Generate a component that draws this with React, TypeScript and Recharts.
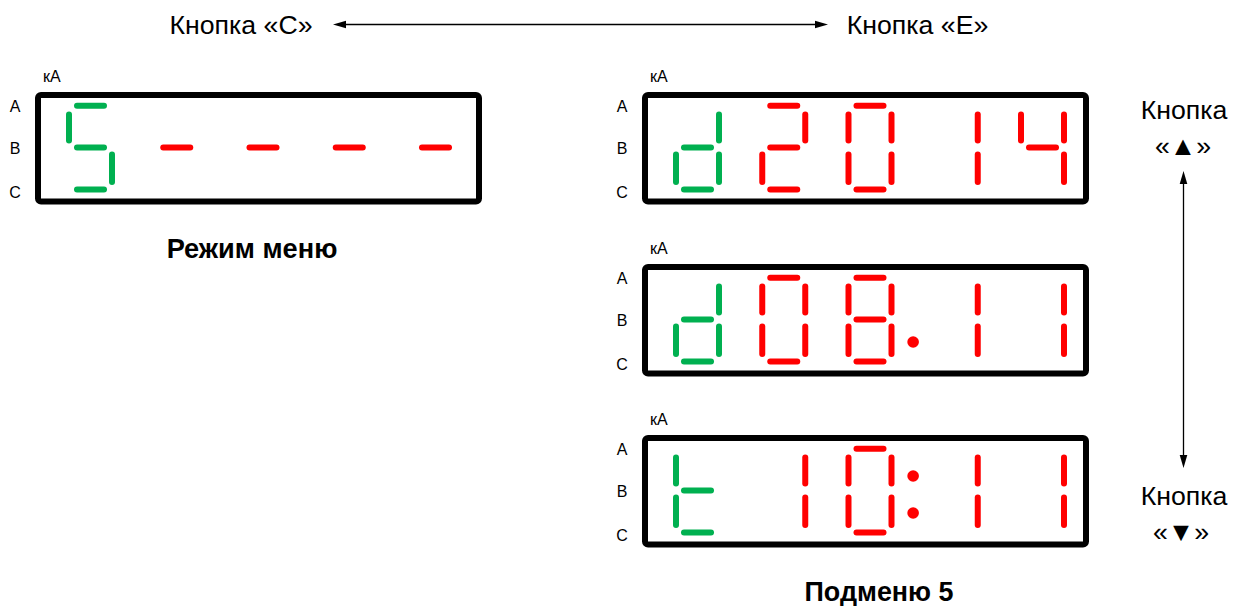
import React from "react";
import {
  ComposedChart,
  XAxis,
  YAxis,
  Scatter,
  ReferenceLine,
  ReferenceDot,
  ReferenceArea,
} from "recharts";

// what each display shows (first position is the mode letter, in green)
const menuText = "S----";
const submenuTexts = ["d2014", "d08.11", "t10:11"];
const phaseLabels = ["A", "B", "C"];
const unitLabel = "кА";
const topButtons = ["Кнопка «С»", "Кнопка «E»"];
const upButton = ["Кнопка", "«▲»"];
const downButton = ["Кнопка", "«▼»"];
const captions = ["Режим меню", "Подменю 5"];

// seven-segment codes
const SEGMENTS: Record<string, string> = {
  S: "acdfg",
  "-": "g",
  d: "bcdeg",
  t: "defg",
  "0": "abcdef",
  "1": "bc",
  "2": "abdeg",
  "4": "bcfg",
  "8": "abcdefg",
};

const W = 1240;
const H = 606;
const GREEN = "#00b050";
const RED = "#ff0000";
const FONT = "'Liberation Sans', Arial, sans-serif";

// layout of one display
const BOX_W = 441;
const BOX_H = 106.5;
const DIGIT_X0 = 31;
const DIGIT_STEP = 86.25;
const DIGIT_W = 43;
const ROWS = { a: 10.7, g: 52.5, d: 94.5 };
const H_INSET = 8;
const UPPER = [19.5, 45.5];
const LOWER = [59.5, 87];
const DOTS = { upper: 38, lower: 75 };

const boxes = [
  { left: 38, top: 95, text: menuText },
  { left: 645, top: 95, text: submenuTexts[0] },
  { left: 645, top: 267, text: submenuTexts[1] },
  { left: 645, top: 438, text: submenuTexts[2] },
];

type Seg = { p: [{ x: number; y: number }, { x: number; y: number }]; color: string };
type Dot = { x: number; y: number };

const segs: Seg[] = [];
const dots: Dot[] = [];

boxes.forEach((b) => {
  let pos = -1;
  for (const ch of b.text) {
    const digitLeft = b.left + DIGIT_X0 + pos * DIGIT_STEP;
    const gapX = digitLeft + DIGIT_W + (DIGIT_STEP - DIGIT_W) / 2;
    if (ch === ".") {
      dots.push({ x: gapX, y: b.top + DOTS.lower });
      continue;
    }
    if (ch === ":") {
      dots.push({ x: gapX, y: b.top + DOTS.upper });
      dots.push({ x: gapX, y: b.top + DOTS.lower });
      continue;
    }
    pos += 1;
    const xl = b.left + DIGIT_X0 + pos * DIGIT_STEP;
    const xr = xl + DIGIT_W;
    const color = pos === 0 ? GREEN : RED;
    for (const s of SEGMENTS[ch] || "") {
      const T = b.top;
      if (s === "a" || s === "g" || s === "d") {
        const y = T + ROWS[s];
        segs.push({ p: [{ x: xl + H_INSET, y }, { x: xr - H_INSET, y }], color });
      } else {
        const x = s === "b" || s === "c" ? xr : xl;
        const r = s === "b" || s === "f" ? UPPER : LOWER;
        segs.push({ p: [{ x, y: T + r[0] }, { x, y: T + r[1] }], color });
      }
    }
  }
});

const labels: any[] = [];
boxes.forEach((b) => {
  labels.push({ x: b.left + 5, y: b.top - 19, text: unitLabel, size: 16, weight: 400, anchor: "start" });
  [11.5, 53.5, 97].forEach((dy, i) =>
    labels.push({ x: b.left - 23, y: b.top + dy, text: phaseLabels[i], size: 16, weight: 400, anchor: "middle" })
  );
});
labels.push({ x: 241, y: 25, text: topButtons[0], size: 26.7, weight: 400, anchor: "middle" });
labels.push({ x: 917.5, y: 25, text: topButtons[1], size: 26.7, weight: 400, anchor: "middle" });
labels.push({ x: 1184, y: 110, text: upButton[0], size: 26.7, weight: 400, anchor: "middle" });
labels.push({ x: 1183, y: 146, text: upButton[1], size: 26.7, weight: 400, anchor: "middle" });
labels.push({ x: 1184, y: 496, text: downButton[0], size: 26.7, weight: 400, anchor: "middle" });
labels.push({ x: 1181, y: 532, text: downButton[1], size: 26.7, weight: 400, anchor: "middle" });
labels.push({ x: 252, y: 248, text: captions[0], size: 27.2, weight: 700, anchor: "middle" });
labels.push({ x: 879, y: 592, text: captions[1], size: 26.9, weight: 700, anchor: "middle" });

const arrows = [
  [{ x: 333, y: 24.5 }, { x: 828, y: 24.5 }],
  [{ x: 1183.5, y: 171 }, { x: 1183.5, y: 468 }],
];

const TextMark = (props: any) => {
  const { cx, cy, payload } = props;
  return (
    <text
      x={cx}
      y={cy}
      textAnchor={payload.anchor}
      dominantBaseline="central"
      fontSize={payload.size}
      fontWeight={payload.weight}
      fontFamily={FONT}
      fill="#000"
    >
      {payload.text}
    </text>
  );
};

const ArrowShape = (props: any) => {
  const { x1, y1, x2, y2 } = props;
  const dx = x2 - x1;
  const dy = y2 - y1;
  const len = Math.hypot(dx, dy) || 1;
  const ux = dx / len;
  const uy = dy / len;
  const L = 13;
  const hw = 3.8;
  const head = (tx: number, ty: number, sx: number, sy: number) =>
    `${tx},${ty} ${tx - sx * L - sy * hw},${ty - sy * L + sx * hw} ${tx - sx * L + sy * hw},${ty - sy * L - sx * hw}`;
  return (
    <g>
      <line x1={x1 + ux * L} y1={y1 + uy * L} x2={x2 - ux * L} y2={y2 - uy * L} stroke="#000" strokeWidth={1.3} />
      <polygon points={head(x2, y2, ux, uy)} fill="#000" />
      <polygon points={head(x1, y1, -ux, -uy)} fill="#000" />
    </g>
  );
};

export default function App() {
  return (
    <div style={{ position: "absolute", left: 0, top: 0, width: W, height: H, background: "#fff" }}>
      <ComposedChart width={W} height={H} margin={{ top: 0, right: 0, bottom: 0, left: 0 }} data={labels}>
        <XAxis type="number" dataKey="x" domain={[0, W]} allowDataOverflow hide />
        <YAxis type="number" dataKey="y" domain={[0, H]} allowDataOverflow reversed hide />
        {boxes.map((b, i) => (
          <ReferenceArea
            key={`box${i}`}
            x1={b.left}
            x2={b.left + BOX_W}
            y1={b.top}
            y2={b.top + BOX_H}
            fill="none"
            fillOpacity={0}
            stroke="#000"
            strokeWidth={6}
            radius={3}
          />
        ))}
        {segs.map((s, i) => (
          <ReferenceLine
            key={`seg${i}`}
            segment={s.p}
            stroke={s.color}
            strokeWidth={6}
            strokeLinecap="round"
          />
        ))}
        {dots.map((d, i) => (
          <ReferenceDot key={`dot${i}`} x={d.x} y={d.y} r={5.8} fill={RED} stroke="none" />
        ))}
        {arrows.map((a, i) => (
          <ReferenceLine key={`arrow${i}`} segment={a} shape={ArrowShape} />
        ))}
        <Scatter data={labels} dataKey="y" shape={TextMark} isAnimationActive={false} />
      </ComposedChart>
    </div>
  );
}
